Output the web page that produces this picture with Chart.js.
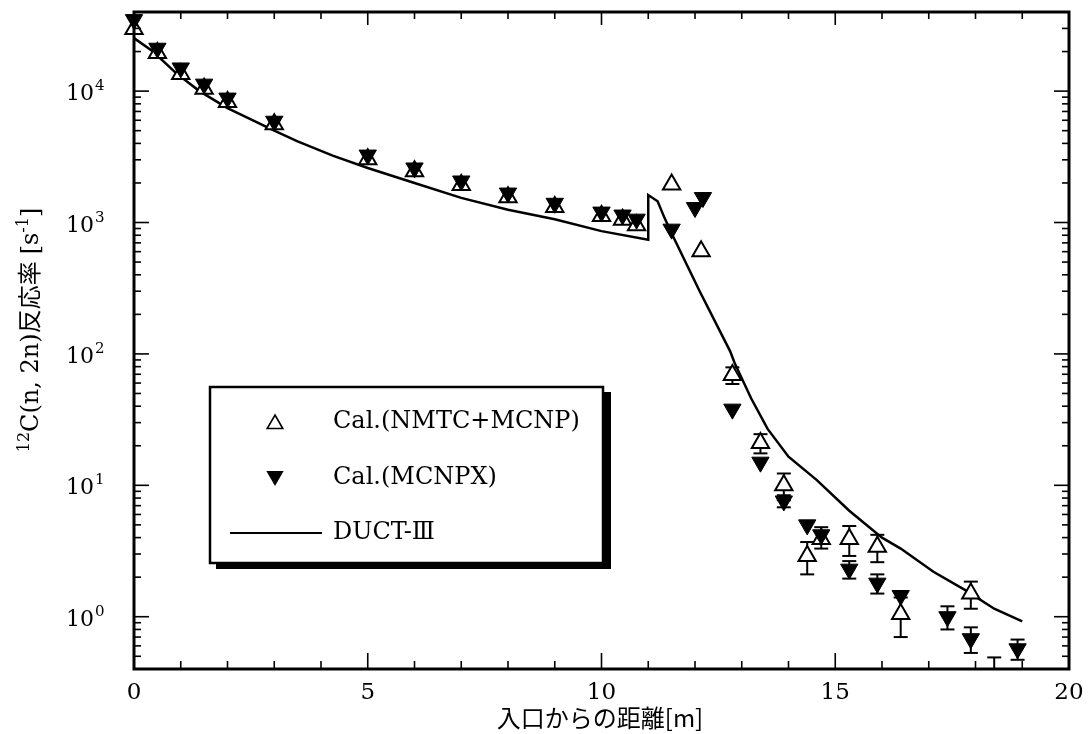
<!DOCTYPE html>
<html>
<head>
<meta charset="utf-8">
<script src="https://cdn.jsdelivr.net/npm/chart.js@4/dist/chart.umd.min.js"></script>
<style>
  html, body { margin: 0; padding: 0; background: #fff; }
  #wrap { width: 1088px; height: 734px; }
</style>
</head>
<body>
<div id="wrap"><canvas id="c" width="1088" height="734"></canvas></div>
<script>
// Axis ticks
const xTickValues = [0, 5, 10, 15, 20];
const yDecades = [0, 1, 2, 3, 4];

// Cal.(NMTC+MCNP): distance [m], rate [1/s], error (+/-)
const nmtcX   = [0, 0.5, 1, 1.5, 2, 3, 5, 6, 7, 8, 9, 10, 10.45, 10.75, 11.5, 12.13, 12.8, 13.4, 13.9, 14.4, 14.7, 15.3, 15.9, 16.4, 17.9, 18.4];
const nmtcY   = [29700, 19500, 13500, 10400, 8250, 5600, 3030, 2450, 1930, 1560, 1310, 1120, 1050, 955, 1950, 605, 69, 21, 10, 2.9, 3.9, 3.9, 3.4, 1.05, 1.5, 0.33];
const nmtcErr = [0, 0, 0, 0, 0, 0, 0, 0, 0, 0, 0, 0, 0, 0, 0, 0, 10, 3.5, 2.3, 0.8, 0.6, 1.0, 0.8, 0.35, 0.35, 0.16];

// Cal.(MCNPX)
const mcnpxX   = [0, 0.5, 1, 1.5, 2, 3, 5, 6, 7, 8, 9, 10, 10.45, 10.75, 11.5, 12.0, 12.17, 12.8, 13.4, 13.9, 14.4, 14.7, 15.3, 15.9, 16.4, 17.4, 17.9, 18.9];
const mcnpxY   = [35000, 21200, 15000, 11300, 8850, 5900, 3260, 2600, 2070, 1675, 1400, 1200, 1140, 1060, 890, 1300, 1550, 38, 15, 7.6, 5.0, 4.2, 2.3, 1.8, 1.45, 1.0, 0.68, 0.57];
const mcnpxErr = [0, 0, 0, 0, 0, 0, 0, 0, 0, 0, 0, 0, 0, 0, 0, 0, 0, 0, 0, 0.8, 0, 0.6, 0.35, 0.3, 0, 0.2, 0.15, 0.1];

// DUCT-III
const ductX = [0, 0.4, 0.9, 1.4, 2.0, 3.0, 3.5, 4.25, 5.0, 6.0, 7.0, 8.0, 9.0, 10.0, 11.0, 11.0, 11.2, 11.35, 11.55, 12.1, 12.75, 12.85, 13.2, 13.55, 14.0, 14.6, 15.3, 16.0, 16.4, 17.1, 17.8, 18.4, 19.0];
const ductY = [25300, 20100, 13700, 10000, 7430, 5000, 4150, 3230, 2600, 2000, 1540, 1250, 1060, 860, 740, 1620, 1450, 1080, 760, 300, 105, 85, 46, 27, 16.5, 11, 6.4, 4.0, 3.3, 2.2, 1.58, 1.15, 0.92];

const legendLabels = ['Cal.(NMTC+MCNP)', 'Cal.(MCNPX)', 'DUCT-Ⅲ'];
const xTitle = '入口からの距離[m]';

const SERIF = '"DejaVu Serif", "Liberation Serif", serif';
const CJK = '"Noto Sans CJK JP", sans-serif';

const pts = (xs, ys) => xs.map((x, i) => ({ x: x, y: ys[i] }));

function line(ctx, x1, y1, x2, y2) {
  ctx.beginPath(); ctx.moveTo(x1, y1); ctx.lineTo(x2, y2); ctx.stroke();
}

// Error bars drawn beneath the markers
const errorBars = {
  id: 'errorBars',
  beforeDatasetsDraw(chart) {
    const { ctx, chartArea: a } = chart;
    const xs = chart.scales.x, ys = chart.scales.y;
    ctx.save();
    ctx.beginPath(); ctx.rect(a.left - 20, a.top - 20, a.right - a.left + 40, a.bottom - a.top + 20); ctx.clip();
    ctx.strokeStyle = '#000'; ctx.lineWidth = 2;
    const sets = [[nmtcX, nmtcY, nmtcErr], [mcnpxX, mcnpxY, mcnpxErr]];
    sets.forEach(([X, Y, E]) => {
      X.forEach((x, i) => {
        if (!E[i]) return;
        const px = xs.getPixelForValue(x);
        const hi = ys.getPixelForValue(Y[i] + E[i]);
        const lo = ys.getPixelForValue(Math.max(Y[i] - E[i], 0.01));
        line(ctx, px, hi, px, lo);
        line(ctx, px - 7, hi, px + 7, hi);
        line(ctx, px - 7, lo, px + 7, lo);
      });
    });
    ctx.restore();
  }
};

function triUp(ctx, x, y, r) {
  ctx.beginPath();
  ctx.moveTo(x, y - r);
  ctx.lineTo(x + r * 0.866, y + r * 0.5);
  ctx.lineTo(x - r * 0.866, y + r * 0.5);
  ctx.closePath();
}
function triDown(ctx, x, y, r) {
  ctx.beginPath();
  ctx.moveTo(x, y + r);
  ctx.lineTo(x + r * 0.866, y - r * 0.5);
  ctx.lineTo(x - r * 0.866, y - r * 0.5);
  ctx.closePath();
}

// Draws a run of text pieces (normal / superscript / CJK) starting at x, baseline y
function drawRuns(ctx, runs, x, y, measureOnly) {
  let cx = x;
  runs.forEach(r => {
    ctx.font = r.font;
    const w = ctx.measureText(r.t).width;
    if (!measureOnly) ctx.fillText(r.t, cx, y - (r.rise || 0));
    cx += w + (r.after || 0);
  });
  return cx - x;
}

const frame = {
  id: 'frame',
  afterDraw(chart) {
    const { ctx, chartArea: a } = chart;
    const xs = chart.scales.x, ys = chart.scales.y;
    ctx.save();
    ctx.strokeStyle = '#000'; ctx.fillStyle = '#000';

    // inward ticks on all four sides
    ctx.lineWidth = 1.6;
    for (let v = 1; v < 20; v++) {
      const px = xs.getPixelForValue(v);
      const major = v % 5 === 0;
      line(ctx, px, a.bottom, px, a.bottom - (major ? 16 : 8));
      line(ctx, px, a.top, px, a.top + (major ? 13 : 7));
    }
    for (let d = -1; d <= 4; d++) {
      for (let m = 1; m <= 9; m++) {
        const v = m * Math.pow(10, d);
        if (v < 0.4 || v > 40000) continue;
        const py = ys.getPixelForValue(v);
        const len = m === 1 ? 15 : 7;
        line(ctx, a.left, py, a.left + len, py);
        line(ctx, a.right, py, a.right - len, py);
      }
    }
    // plot frame
    ctx.lineWidth = 3;
    ctx.strokeRect(a.left, a.top, a.right - a.left, a.bottom - a.top);

    // x tick labels
    ctx.font = '23px ' + SERIF;
    ctx.textAlign = 'center'; ctx.textBaseline = 'middle';
    xTickValues.forEach(v => ctx.fillText(String(v), xs.getPixelForValue(v), 693));

    // y tick labels 10^n
    ctx.textAlign = 'left'; ctx.textBaseline = 'alphabetic';
    yDecades.forEach(d => {
      const py = ys.getPixelForValue(Math.pow(10, d));
      drawRuns(ctx, [
        { t: '10', font: '22px ' + SERIF, after: 1 },
        { t: String(d), font: '15px ' + SERIF, rise: 10 }
      ], 66, py + 9);
    });

    // x axis title
    ctx.font = '24px ' + CJK;
    ctx.textAlign = 'center'; ctx.textBaseline = 'middle';
    ctx.fillText(xTitle, 600, 718);

    // y axis title (rotated)
    ctx.save();
    ctx.translate(30, 330);
    ctx.rotate(-Math.PI / 2);
    ctx.textAlign = 'left'; ctx.textBaseline = 'alphabetic';
    const yRuns = [
      { t: '12', font: '16px ' + SERIF, rise: 9 },
      { t: 'C(n, 2n)', font: '24px ' + SERIF },
      { t: '反応率', font: '24px ' + CJK, after: 7 },
      { t: '[s', font: '24px ' + SERIF },
      { t: '-1', font: '16px ' + SERIF, rise: 10 },
      { t: ']', font: '24px ' + SERIF }
    ];
    const tw = drawRuns(ctx, yRuns, 0, 0, true);
    drawRuns(ctx, yRuns, -tw / 2, 8);
    ctx.restore();

    // legend box with drop shadow
    const bx = 210, by = 387, bw = 393, bh = 176;
    ctx.fillStyle = '#000';
    ctx.fillRect(bx + 6, by + 5, bw + 2, bh + 1);
    ctx.fillStyle = '#fff';
    ctx.fillRect(bx, by, bw, bh);
    ctx.lineWidth = 2.5; ctx.strokeStyle = '#000';
    ctx.strokeRect(bx, by, bw, bh);

    const rows = [422, 478, 533];
    ctx.lineWidth = 1.6;
    triUp(ctx, 275, rows[0] + 2, 9); ctx.fillStyle = '#fff'; ctx.fill(); ctx.stroke();
    triDown(ctx, 275, rows[1] - 2, 10); ctx.fillStyle = '#000'; ctx.fill();
    ctx.lineWidth = 2;
    line(ctx, 230, rows[2], 322, rows[2]);

    ctx.fillStyle = '#000';
    ctx.font = '24px ' + SERIF;
    ctx.textAlign = 'left'; ctx.textBaseline = 'middle';
    legendLabels.forEach((t, i) => ctx.fillText(t, 333, rows[i]));

    ctx.restore();
  }
};

new Chart(document.getElementById('c'), {
  type: 'scatter',
  data: {
    datasets: [
      {
        label: legendLabels[1],
        data: pts(mcnpxX, mcnpxY),
        pointStyle: 'triangle',
        rotation: 180,
        pointRadius: 10,
        pointBackgroundColor: '#000',
        pointBorderColor: '#000',
        pointBorderWidth: 1,
        showLine: false,
        order: 1,
        clip: { left: 14, top: 14, right: 14, bottom: 0 }
      },
      {
        label: legendLabels[0],
        data: pts(nmtcX, nmtcY),
        pointStyle: 'triangle',
        pointRadius: 10,
        pointBackgroundColor: '#fff',
        pointBorderColor: '#000',
        pointBorderWidth: 2,
        showLine: false,
        order: 2,
        clip: { left: 14, top: 14, right: 14, bottom: 0 }
      },
      {
        label: legendLabels[2],
        data: pts(ductX, ductY),
        showLine: true,
        borderColor: '#000',
        borderWidth: 2.5,
        pointRadius: 0,
        tension: 0,
        order: 3,
        clip: 2
      }
    ]
  },
  options: {
    responsive: false,
    animation: false,
    events: [],
    layout: { padding: { left: 134, right: 19, top: 11, bottom: 65 } },
    scales: {
      x: { type: 'linear', min: 0, max: 20, display: false },
      y: { type: 'logarithmic', min: 0.4, max: 40000, display: false }
    },
    plugins: { legend: { display: false }, tooltip: { enabled: false } }
  },
  plugins: [errorBars, frame]
});
</script>
</body>
</html>
